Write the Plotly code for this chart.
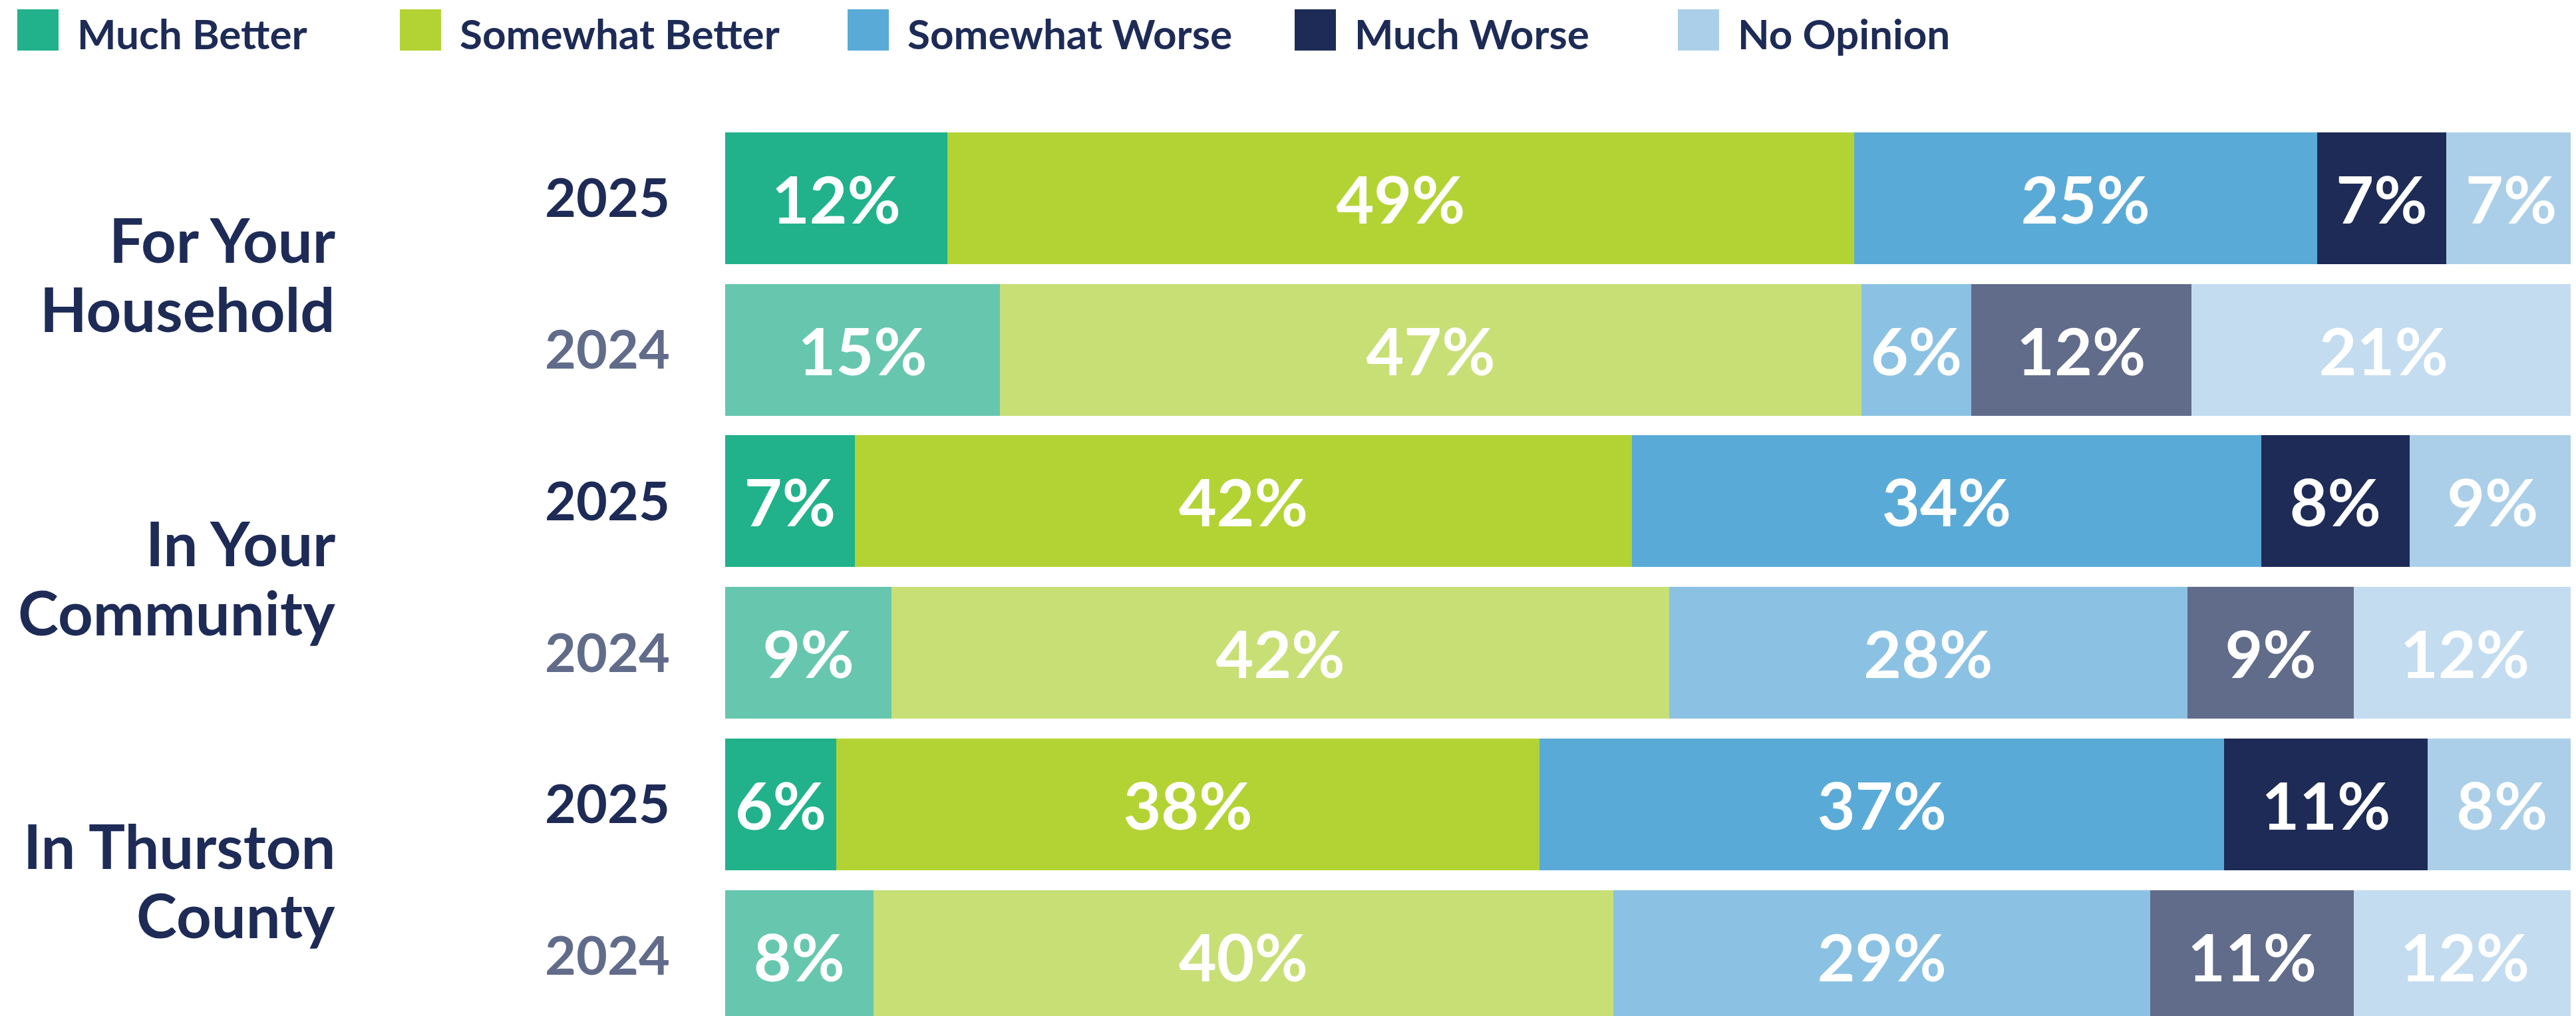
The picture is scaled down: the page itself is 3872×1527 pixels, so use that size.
import plotly.graph_objects as go

# ---------------- data ----------------
groups = ["For Your Household", "In Your Community", "In Thurston County"]
group_lines = [["For Your", "Household"], ["In Your", "Community"], ["In Thurston", "County"]]
years = ["2025", "2024"]

series_names = ["Much Better", "Somewhat Better", "Somewhat Worse", "Much Worse", "No Opinion"]
much_better = [12, 15, 7, 9, 6, 8]
somewhat_better = [49, 47, 42, 42, 38, 40]
somewhat_worse = [25, 6, 34, 28, 37, 29]
much_worse = [7, 12, 8, 9, 11, 11]
no_opinion = [7, 21, 9, 12, 8, 12]

colors_2025 = ["#21B28B", "#B3D334", "#5AAAD8", "#1D2B56", "#ABCFE8"]
colors_2024 = ["#66C7AE", "#C8DF76", "#8BC2E3", "#616C8A", "#C4DCF0"]
year_colors = {"2025": "#1D2B56", "2024": "#616C8A"}
DARK = "#1D2B56"
FONT = "Lato"

rows = [f"{g} {y}" for g in groups for y in years]
row_years = [y for g in groups for y in years]
values = [much_better, somewhat_better, somewhat_worse, much_worse, no_opinion]

# ---------------- geometry (page has an 8px body margin) ----------------
OFF = 8
W, H = 3872 - OFF, 1527 - OFF
ML, MT = 1090 - OFF, 184 - OFF
PW, PH = W - ML, H - MT


def px_x(p):
    return (p - OFF - ML) / PW


def px_y(p):
    return (H - (p - OFF)) / PH


fig = go.Figure()
for i, name in enumerate(series_names):
    cols = [colors_2025[i] if y == "2025" else colors_2024[i] for y in row_years]
    fig.add_trace(go.Bar(
        name=name,
        y=rows,
        x=values[i],
        orientation="h",
        marker=dict(color=cols, line=dict(width=0)),
        text=[f"{v}%" for v in values[i]],
        textposition="inside",
        insidetextanchor="middle",
        textangle=0,
        textfont=dict(family=FONT, size=98, color="white", weight="bold"),
        showlegend=False,
        hoverinfo="skip",
    ))

ticktext = [f"<span style='color:{year_colors[y]}'>{y}</span>" for y in row_years]

annotations = []
shapes = []
# group labels (one annotation per line)
for gi, lines in enumerate(group_lines):
    center = gi * 2 + 0.5
    for li, line in enumerate(lines):
        annotations.append(dict(
            text=line, xref="paper", x=px_x(506), xanchor="right",
            yref="y", y=center, yanchor="middle", yshift=52 if li == 0 else -52,
            showarrow=False,
            font=dict(family=FONT, size=92, color=DARK, weight="bold"),
        ))

# custom legend
legend_x = [26, 601, 1274, 1946, 2522]
for i, name in enumerate(series_names):
    x0 = legend_x[i]
    shapes.append(dict(
        type="rect", xref="paper", yref="paper",
        x0=px_x(x0), x1=px_x(x0 + 62), y0=px_y(76), y1=px_y(14),
        fillcolor=colors_2025[i], line=dict(width=0),
    ))
    annotations.append(dict(
        text=name, xref="paper", x=px_x(x0 + 88), xanchor="left",
        yref="paper", y=px_y(50), yanchor="middle",
        showarrow=False,
        font=dict(family=FONT, size=62, color=DARK, weight="bold"),
    ))

fig.update_layout(
    width=W, height=H,
    margin=dict(l=ML, r=0, t=MT, b=0, pad=0),
    paper_bgcolor="white", plot_bgcolor="white",
    barmode="stack", barnorm="percent", bargap=0.131,
    uniformtext=dict(minsize=98, mode="show"),
    xaxis=dict(range=[0, 100], visible=False, fixedrange=True),
    yaxis=dict(
        type="category", categoryorder="array", categoryarray=rows,
        range=[5.396, -0.5],
        tickmode="array", tickvals=rows, ticktext=ticktext,
        tickfont=dict(family=FONT, size=81, color=DARK, weight="bold"),
        showgrid=False, zeroline=False, showline=False, ticks="",
        ticklabelstandoff=82,
    ),
    annotations=annotations,
    shapes=shapes,
)

fig.write_html("out.html")
